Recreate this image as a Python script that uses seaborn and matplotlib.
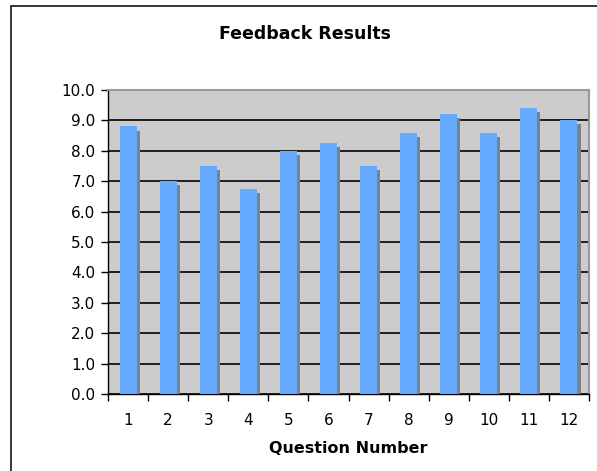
import numpy as np
import seaborn as sns
import matplotlib.pyplot as plt
import matplotlib.patheffects as pe
from matplotlib.patches import Rectangle

questions = ['1', '2', '3', '4', '5', '6', '7', '8', '9', '10', '11', '12']
scores = [8.8, 7.0, 7.5, 6.75, 8.0, 8.25, 7.5, 8.6, 9.2, 8.6, 9.4, 9.0]
y_ticks = [0, 1, 2, 3, 4, 5, 6, 7, 8, 9, 10]

W, H = 597, 471
fig = plt.figure(figsize=(W / 100, H / 100), dpi=100)
ax = fig.add_axes([108 / W, 1 - 394 / H, 481 / W, 304 / H])

sns.barplot(x=questions, y=scores, color='#66AAFF', saturation=1, width=0.425,
            linewidth=0, ax=ax, zorder=3)

# drop shadow to the lower right of each bar
shadow = [pe.SimplePatchShadow(offset=(2.2, -2.9), shadow_rgbFace='#808080', alpha=1.0),
          pe.Normal()]
for bar in ax.patches:
    bar.set_path_effects(shadow)

ax.set_facecolor('#CCCCCC')
ax.set_ylim(0, 10)
ax.set_xlim(-0.5, len(questions) - 0.5)
ax.set_yticks(y_ticks)
ax.set_yticklabels([f'{v:.1f}' for v in y_ticks])
ax.set_axisbelow(True)
ax.yaxis.grid(True, color='#111111', linewidth=1.3)

for s in ['top', 'right']:
    ax.spines[s].set_color('#999999')
    ax.spines[s].set_linewidth(1.5)
for s in ['left', 'bottom']:
    ax.spines[s].set_color('black')
    ax.spines[s].set_linewidth(1.0)

ax.set_xticks(np.arange(-0.5, len(questions), 1), minor=True)
ax.tick_params(axis='x', which='major', length=0, pad=14, labelsize=11, colors='black')
ax.tick_params(axis='x', which='minor', length=5, width=1, color='black')
ax.tick_params(axis='y', length=5, width=1, pad=4, labelsize=11, colors='black')

ax.set_xlabel('Question Number', fontsize=11.5, fontweight='bold', labelpad=9)
ax.set_ylabel('')

fig.text(305 / W, 1 - 34 / H, 'Feedback Results', ha='center', va='center',
         fontsize=12.5, fontweight='bold')

frame = Rectangle((11 / W, -0.1), 1.2, 1 - 6 / H + 0.1, transform=fig.transFigure,
                  fill=False, edgecolor='black', linewidth=1.1, clip_on=False)
fig.patches.append(frame)

fig.savefig('out.png', dpi=100)
